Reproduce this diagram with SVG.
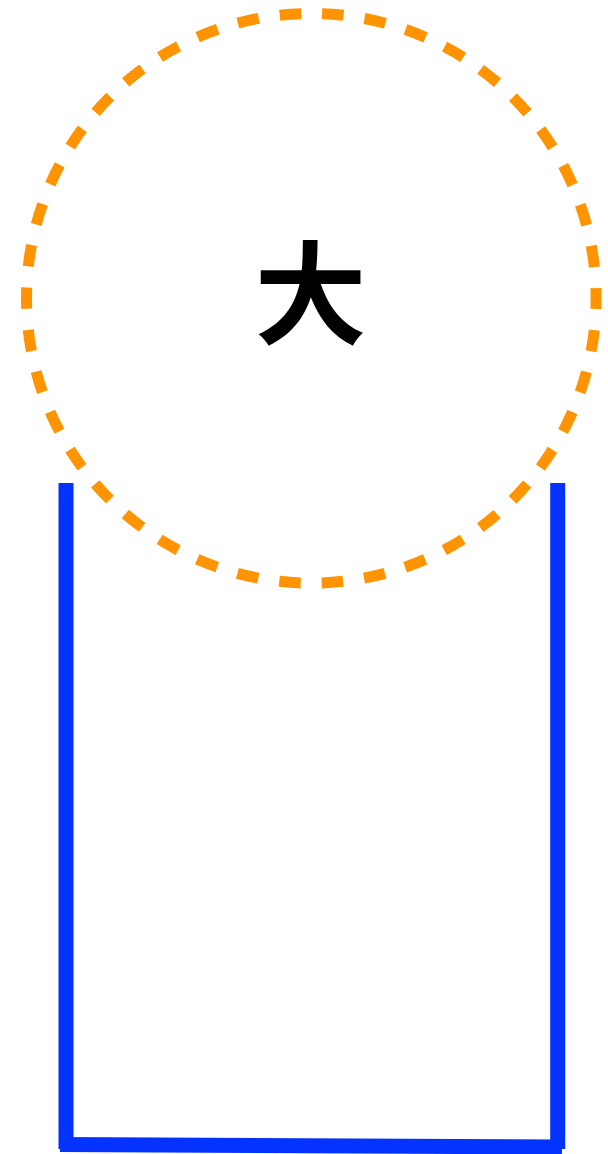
<svg xmlns="http://www.w3.org/2000/svg" width="608" height="1154" viewBox="0 0 608 1154">
<style>
.blue{stroke:#0433ff;stroke-width:15;fill:none;stroke-linecap:butt}
.ring{stroke:#ff9300;stroke-width:11;fill:none;stroke-dasharray:21.5 21.1;stroke-dashoffset:10.75}
.lbl{font-family:"Noto Sans CJK SC","Noto Sans CJK JP",sans-serif;font-weight:bold;font-size:112px;fill:#000;text-anchor:middle}
</style>
<rect width="608" height="1154" fill="#fff"/>
<g id="connectors">
<line class="blue" x1="66" y1="483" x2="66" y2="1149"/>
<line class="blue" x1="557.7" y1="483" x2="557.7" y2="1149"/>
<line class="blue" x1="60" y1="1144.5" x2="562" y2="1147"/>
</g>
<g id="node-big">
<circle class="ring" cx="311.3" cy="298.3" r="284.8"/>
<text class="lbl" x="310.5" y="336">大</text>
</g>
</svg>
